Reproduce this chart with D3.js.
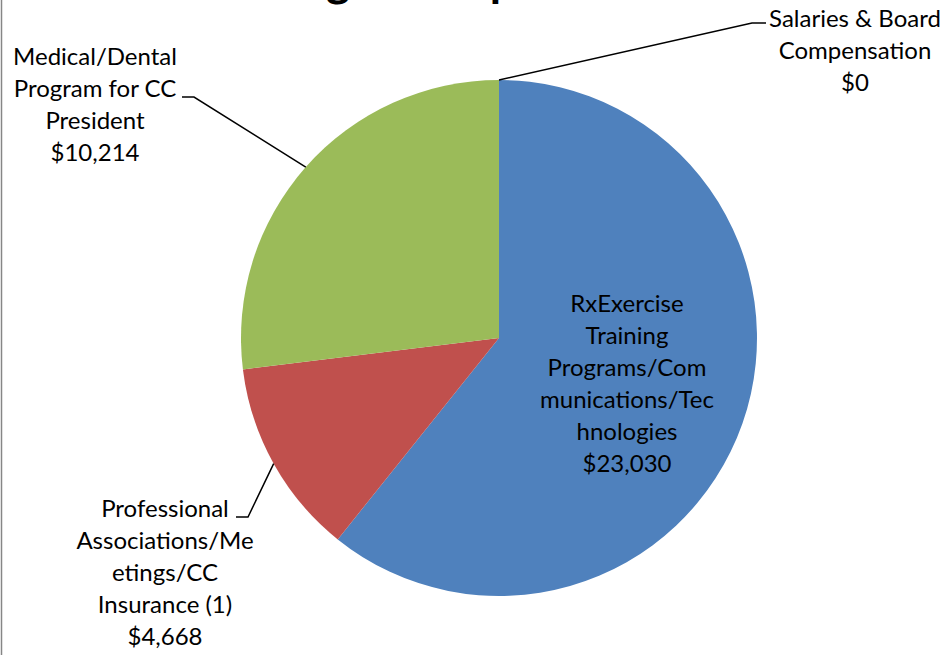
<!DOCTYPE html>
<html>
<head>
<meta charset="utf-8">
<script src="https://cdn.jsdelivr.net/npm/d3@7"></script>
<style>
  html, body { margin: 0; padding: 0; background: #fff; }
  svg { display: block; }
  text { font-family: Lato, "Open Sans", sans-serif; fill: #000; }
</style>
</head>
<body>
<script>
// slice order follows the source sheet (Excel starts at 12 o'clock, clockwise)
const categories = [
  "RxExercise Training Programs/Communications/Technologies",
  "Professional Associations/Meetings/CC Insurance (1)",
  "Medical/Dental Program for CC President",
  "Salaries & Board Compensation"
];
const values = [23030, 4668, 10214, 0];
const valueLabels = ["$23,030", "$4,668", "$10,214", "$0"];
const labelLines = [
  ["RxExercise", "Training", "Programs/Com", "munications/Tec", "hnologies"],
  ["Professional", "Associations/Me", "etings/CC", "Insurance (1)"],
  ["Medical/Dental", "Program for CC", "President"],
  ["Salaries & Board", "Compensation"]
];
const colors = ["#4F81BD", "#C0504D", "#9BBB59", "#8064A2"];
const titleText = "Program Expenses";

var w = 948, h = 655;
var cx = 499, cy = 338, r = 258;
var fontSize = 24, lineH = 32;

// label placement: centre x, first baseline, and leader elbow (null = inside)
var labelPos = [
  { x: 627, y: 312, elbow: null },
  { x: 165, y: 517, elbow: [[236, 517], [248, 517]] },
  { x: 95, y: 65, elbow: [[182, 97], [194, 97]] },
  { x: 855, y: 27, elbow: [[766, 23], [752, 23]] }
];

document.addEventListener("DOMContentLoaded", () => {
  var svg = d3.select("body").append("svg")
    .attr("width", w)
    .attr("height", h);

  // chart area border (only the left edge falls inside the crop)
  svg.append("line")
    .attr("x1", 1.5).attr("x2", 1.5)
    .attr("y1", 0).attr("y2", h)
    .style("stroke", "#868686")
    .style("stroke-width", 1.5);

  // title, mostly cut off above the frame
  var title = svg.append("text")
    .attr("y", -4)
    .style("font-weight", "bold")
    .style("font-size", "40px")
    .text(titleText);
  var tn = title.node();
  var gi = titleText.indexOf("g"), pi = titleText.indexOf("p");
  var gBox = tn.getExtentOfChar(gi), pBox = tn.getExtentOfChar(pi);
  var gMid = gBox.x + gBox.width / 2;
  var k = 155 / (pBox.x + pBox.width * 0.12 - gMid);
  title.style("font-size", (40 * k) + "px");
  gBox = tn.getExtentOfChar(gi);
  title.attr("x", 338 - (gBox.x + gBox.width / 2));

  var pie = d3.pie().sort(null).value(d => d)(values);
  var arc = d3.arc().innerRadius(0).outerRadius(r);

  var g = svg.append("g").attr("transform", `translate(${cx},${cy})`);

  g.selectAll("path.slice")
    .data(pie)
    .enter()
    .append("path")
    .attr("class", "slice")
    .attr("d", arc)
    .style("fill", (d, i) => colors[i]);

  // leader lines from the slice edge to the outside labels
  pie.forEach((d, i) => {
    var lp = labelPos[i];
    if (!lp.elbow) return;
    var a = d.endAngle - d.startAngle > 0 ? (d.startAngle + d.endAngle) / 2 : d.startAngle;
    var p0 = [cx + r * Math.sin(a), cy - r * Math.cos(a)];
    var pts = [p0, lp.elbow[1], lp.elbow[0]];
    svg.append("path")
      .attr("d", d3.line()(pts))
      .style("fill", "none")
      .style("stroke", "#000")
      .style("stroke-width", 1.5);
  });

  // labels: category lines then value
  labelLines.forEach((lines, i) => {
    var lp = labelPos[i];
    var t = svg.append("text")
      .attr("text-anchor", "middle")
      .style("font-size", fontSize + "px");
    lines.concat([valueLabels[i]]).forEach((s, j) => {
      t.append("tspan")
        .attr("x", lp.x)
        .attr("y", lp.y + j * lineH)
        .text(s);
    });
  });
});
</script>
</body>
</html>
